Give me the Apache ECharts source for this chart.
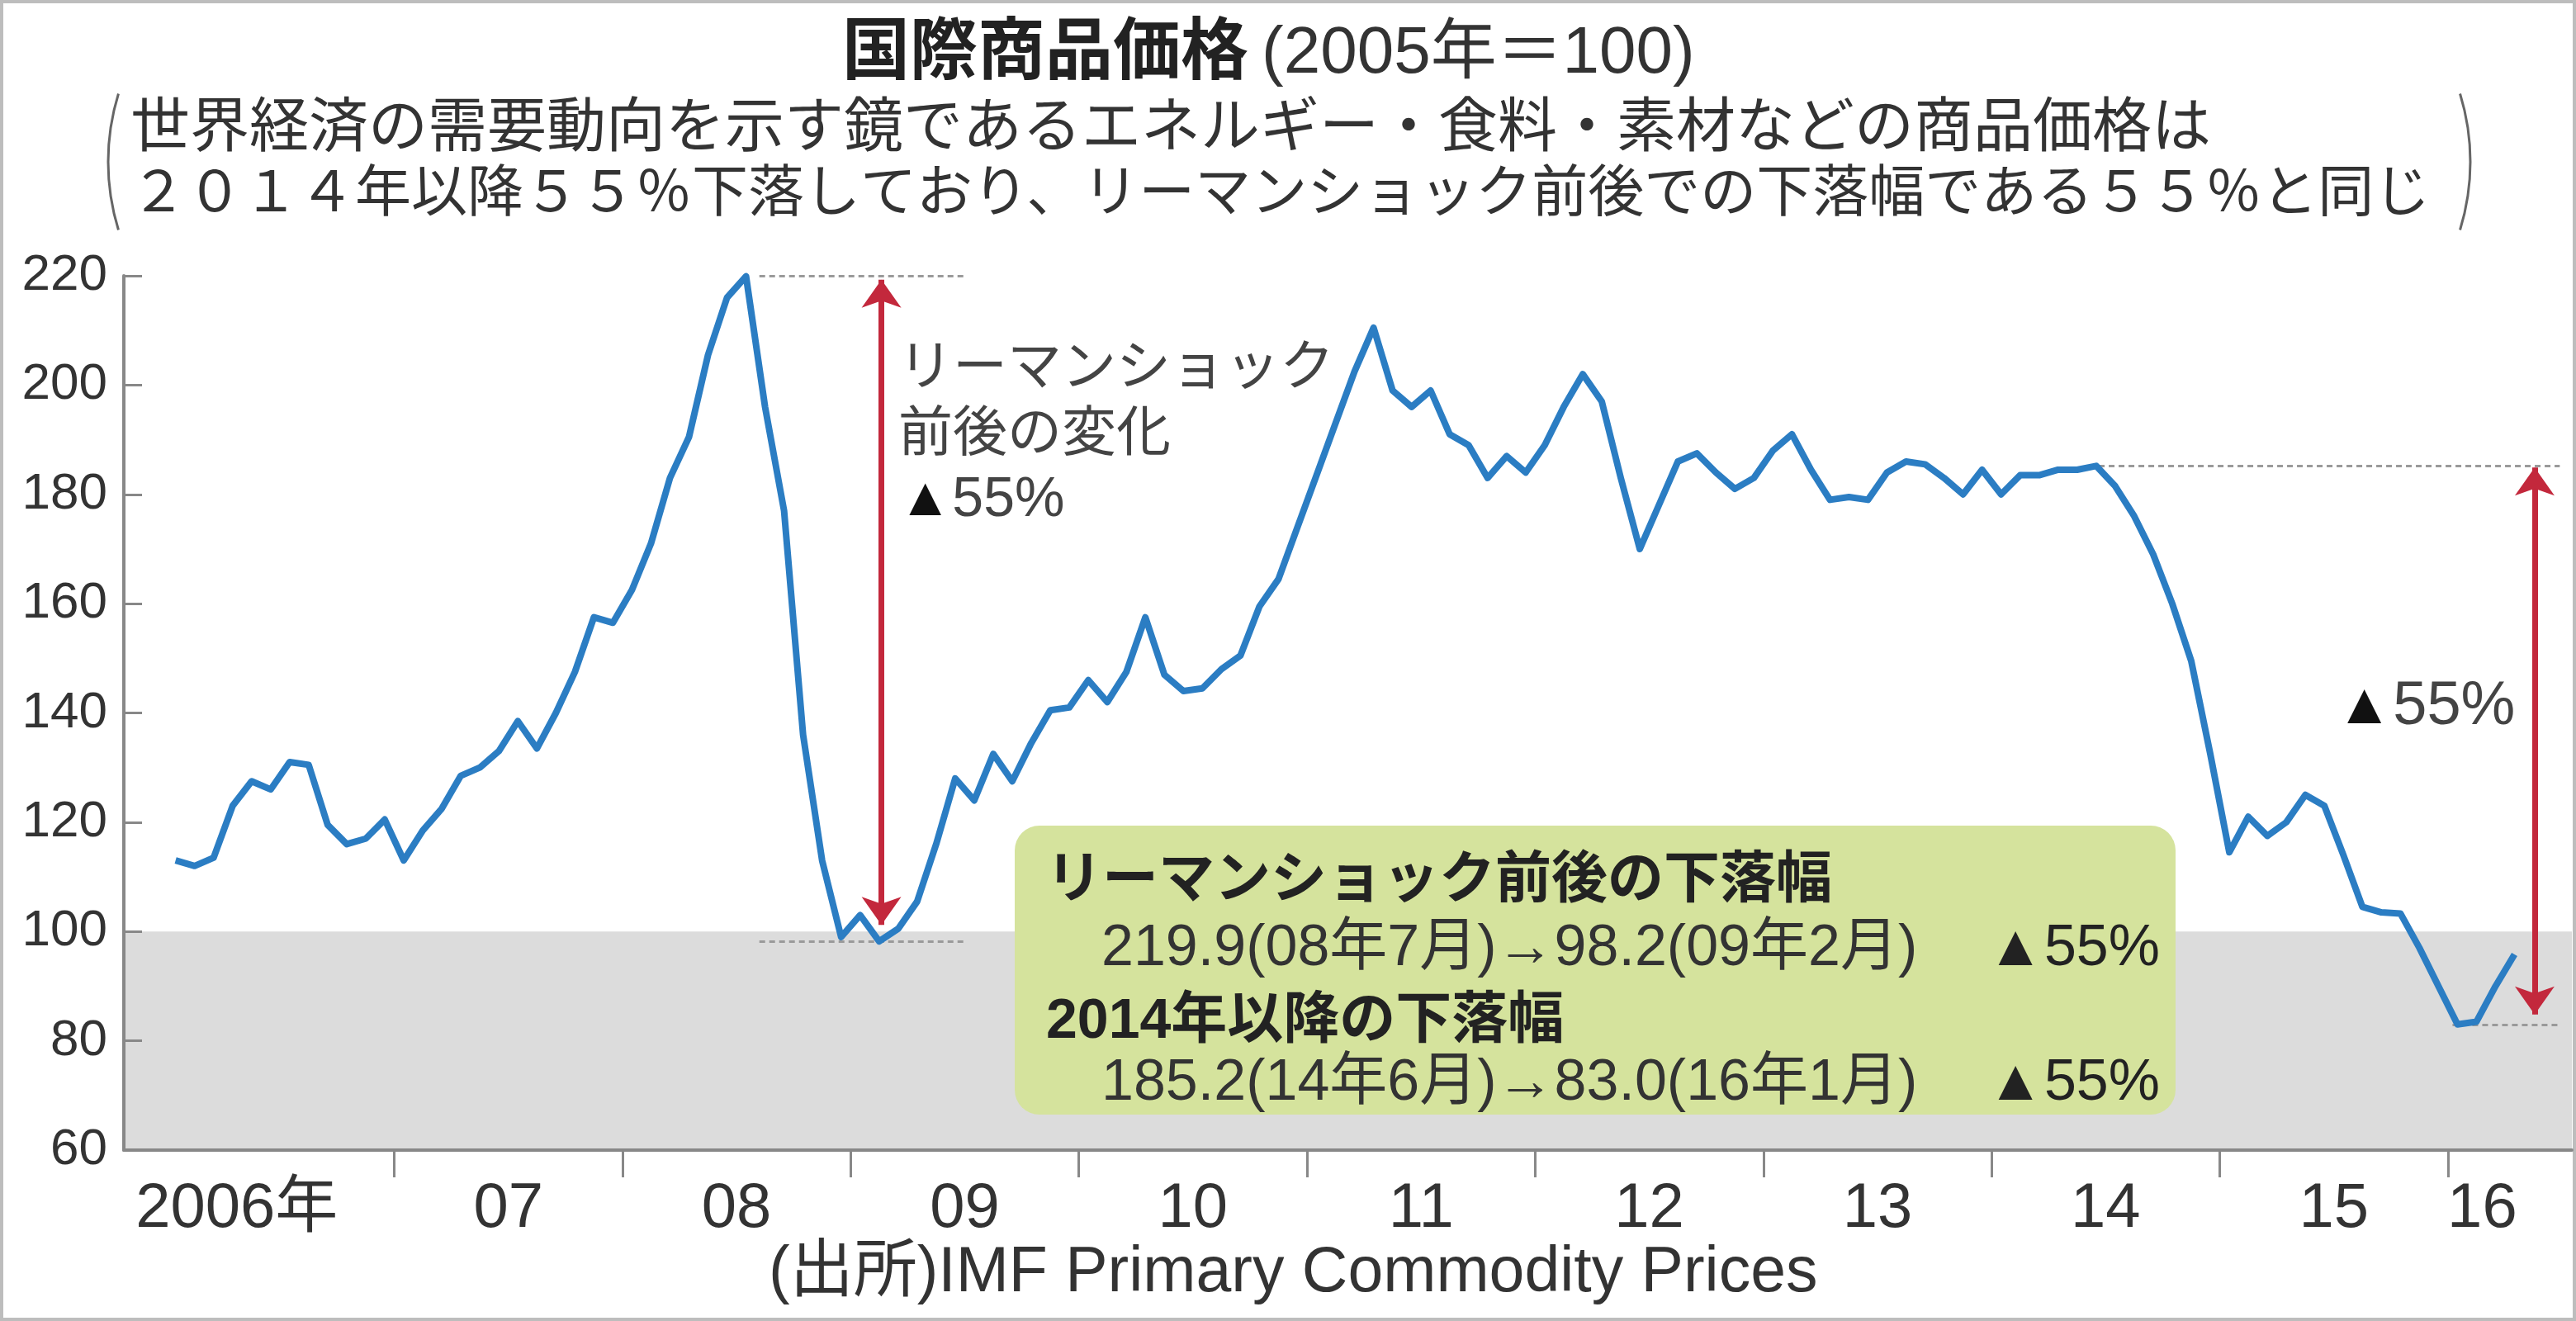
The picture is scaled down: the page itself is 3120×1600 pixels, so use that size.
<!DOCTYPE html>
<html>
<head>
<meta charset="utf-8">
<script src="https://cdn.jsdelivr.net/npm/echarts@6/dist/echarts.min.js"></script>
<style>html,body{margin:0;padding:0;background:#fff}#c{width:3120px;height:1600px}</style>
</head>
<body>
<div id="c"></div>
<script>
// ---- data (monthly, Jan 2006 - Apr 2016, 2005=100) ----
const startYear = 2006;
const values = [
  113,112,113.5,123,127.5,126,131,130.5,119.5,116,117,120.5,
  113,118.5,122.5,128.5,130,133,138.5,133.5,140,147.5,157.5,156.5,
  162.5,171,183,190.5,205.5,216,219.9,196,177,136,113,99,
  103,98.2,100.5,105.5,116,128,124,132.5,127.5,134.5,140.5,141,
  146,142,147.5,157.5,147,144,144.5,148,150.5,159.5,164.5,174,
  183.5,193,202.5,210.5,199,196,199,191,189,183,187,184,
  189,196,202,197,183,170,178,186,187.5,184,181,183,
  188,191,184.5,179,179.5,179,184,186,185.5,183,180,184.5,
  180,183.5,183.5,184.5,184.5,185.2,181.5,176,169,160,149.5,132.5,
  114.5,121,117.5,120,125,123,114,104.5,103.5,103.3,97,90,
  83.0,83.5,90,95.8
];
const years = [2006,2007,2008,2009,2010,2011,2012,2013,2014,2015,2016];
const yearLabels = ['2006年','07','08','09','10','11','12','13','14','15','16'];
const yTicks = [60,80,100,120,140,160,180,200,220];
const baseValue = 100;          // 2005 = 100
const peak1 = 219.9, trough1 = 98.2;   // 08/7 -> 09/2
const peak2 = 185.2, trough2 = 83.0;   // 14/6 -> 16/1
const dropPct = 55;

// ---- derived ----
const seriesData = values.map((v, i) => [startYear + (i + 0.5) / 12, v]);
const tickYears = years.slice(1);
const labelPos = years.map((y, k) => k === 0 ? y + 0.31 : (k === years.length - 1 ? y + 0.15 : y + 0.5));

const FONT = "'Liberation Sans','Noto Sans CJK JP',sans-serif";
const RED = '#c3283c';
const BLUE = '#2b7dc3';

function txt(text, x, y, size, o) {
  o = o || {};
  return {
    type: 'text', x: x, y: y, z: 100,
    style: {
      text: text, fontSize: size, fontFamily: FONT,
      fontWeight: o.weight || 'normal', fill: o.color || '#333',
      align: o.align || 'left', verticalAlign: 'middle',
      rich: o.rich
    }
  };
}

const chart = echarts.init(document.getElementById('c'), null, { renderer: 'canvas' });

const dashed = { type: [7, 5], color: '#9a9a9a', width: 3 };
const arrowStyle = { type: 'solid', color: RED, width: 7 };
const arrowEnd = { symbol: 'arrow', symbolSize: [36, 34], itemStyle: { color: RED } };

const option = {
  backgroundColor: '#ffffff',
  animation: false,
  grid: { left: 150, right: 5, top: 334, bottom: 207, containLabel: false },
  xAxis: {
    type: 'value', min: 2005.815, max: 2016.543, z: 10,
    axisLine: { show: true, lineStyle: { color: '#888', width: 4 } },
    axisTick: { show: true, customValues: tickYears, length: 33, inside: false, lineStyle: { color: '#888', width: 3 } },
    axisLabel: {
      show: true, customValues: labelPos, margin: 34,
      fontSize: 76, fontFamily: FONT, color: '#333',
      formatter: function (v) {
        const k = labelPos.findIndex(p => Math.abs(p - v) < 1e-3);
        return k >= 0 ? yearLabels[k] : '';
      }
    },
    splitLine: { show: false }
  },
  yAxis: {
    type: 'value', min: yTicks[0], max: yTicks[yTicks.length - 1], interval: 20, z: 10,
    axisLine: { show: true, lineStyle: { color: '#888', width: 4 } },
    axisTick: { show: true, inside: true, length: 22, lineStyle: { color: '#888', width: 3 } },
    axisLabel: { fontSize: 62, fontFamily: FONT, color: '#333', margin: 20 },
    splitLine: { show: false }
  },
  series: [
    {
      type: 'line', data: seriesData, showSymbol: false, z: 5,
      lineStyle: { color: BLUE, width: 8, join: 'round' },
      markArea: {
        silent: true,
        itemStyle: { color: '#dcdcdc' },
        data: [[{ yAxis: yTicks[0] }, { yAxis: baseValue }]]
      },
      markLine: {
        silent: true, symbol: ['none', 'none'], label: { show: false },
        data: [
          [{ coord: [2008.60, peak1], lineStyle: dashed }, { coord: [2009.50, peak1] }],
          [{ coord: [2008.60, trough1], lineStyle: dashed }, { coord: [2009.50, trough1] }],
          [{ coord: [2014.47, peak2], lineStyle: dashed }, { coord: [2016.49, peak2] }],
          [{ coord: [2016.02, trough2], lineStyle: dashed }, { coord: [2016.49, trough2] }],
          [Object.assign({ coord: [2009.135, peak1 - 0.6], lineStyle: arrowStyle }, arrowEnd),
           Object.assign({ coord: [2009.135, trough1 + 3.0] }, arrowEnd)],
          [Object.assign({ coord: [2016.38, peak2 - 0.3], lineStyle: arrowStyle }, arrowEnd),
           Object.assign({ coord: [2016.38, trough2 + 1.8] }, arrowEnd)]
        ]
      }
    }
  ],
  graphic: {
    elements: [
      { type: 'rect', z: 0, shape: { x: 2, y: 2, width: 3116, height: 1596 }, style: { fill: 'none', stroke: '#bdbdbd', lineWidth: 4 } },
      {
        type: 'text', x: 1020, y: 66, z: 100,
        style: {
          text: '{b|国際商品価格}{n|\u2009(2005年＝' + baseValue + ')}', verticalAlign: 'middle',
          rich: {
            b: { fontSize: 82, fontWeight: 'bold', fontFamily: FONT, fill: '#222' },
            n: { fontSize: 80, fontFamily: FONT, fill: '#333' }
          }
        }
      },
      { type: 'arc', z: 100, shape: { cx: 410, cy: 196, r: 279, startAngle: Math.PI - 0.3, endAngle: Math.PI + 0.3 }, style: { fill: 'none', stroke: '#666', lineWidth: 3 } },
      { type: 'arc', z: 100, shape: { cx: 2713, cy: 196, r: 279, startAngle: -0.3, endAngle: 0.3 }, style: { fill: 'none', stroke: '#666', lineWidth: 3 } },
      txt('世界経済の需要動向を示す鏡であるエネルギー・食料・素材などの商品価格は', 158, 157, 72, { color: '#333' }),
      txt('２０１４年以降５５％下落しており、リーマンショック前後での下落幅である５５％と同じ', 158, 237, 68, { color: '#333' }),
      txt('リーマンショック', 1088, 448, 66, { color: '#444' }),
      txt('前後の変化', 1088, 528, 66, { color: '#444' }),
      txt('{t|▲}' + dropPct + '%', 1088, 606, 68, { color: '#444', rich: { t: { fill: '#111', fontSize: 66, fontFamily: FONT } } }),
      txt('{t|▲}' + dropPct + '%', 2829, 857, 74, { color: '#444', rich: { t: { fill: '#111', fontSize: 70, fontFamily: FONT } } }),
      { type: 'rect', z: 90, shape: { x: 1229, y: 1000, width: 1406, height: 350, r: 30 }, style: { fill: '#d5e39d' } },
      txt('リーマンショック前後の下落幅', 1267, 1068, 68, { weight: 'bold', color: '#222' }),
      txt(peak1.toFixed(1) + '(08年7月)→' + trough1.toFixed(1) + '(09年2月)', 1334, 1150, 70, { color: '#333' }),
      txt('▲' + dropPct + '%', 2616, 1150, 70, { color: '#222', align: 'right' }),
      txt('2014年以降の下落幅', 1267, 1238, 68, { weight: 'bold', color: '#222' }),
      txt(peak2.toFixed(1) + '(14年6月)→' + trough2.toFixed(1) + '(16年1月)', 1334, 1313, 70, { color: '#333' }),
      txt('▲' + dropPct + '%', 2616, 1313, 70, { color: '#222', align: 'right' }),
      txt('(出所)IMF Primary Commodity Prices', 931, 1543, 77, { color: '#333' })
    ]
  }
};
chart.setOption(option);
</script>
</body>
</html>
